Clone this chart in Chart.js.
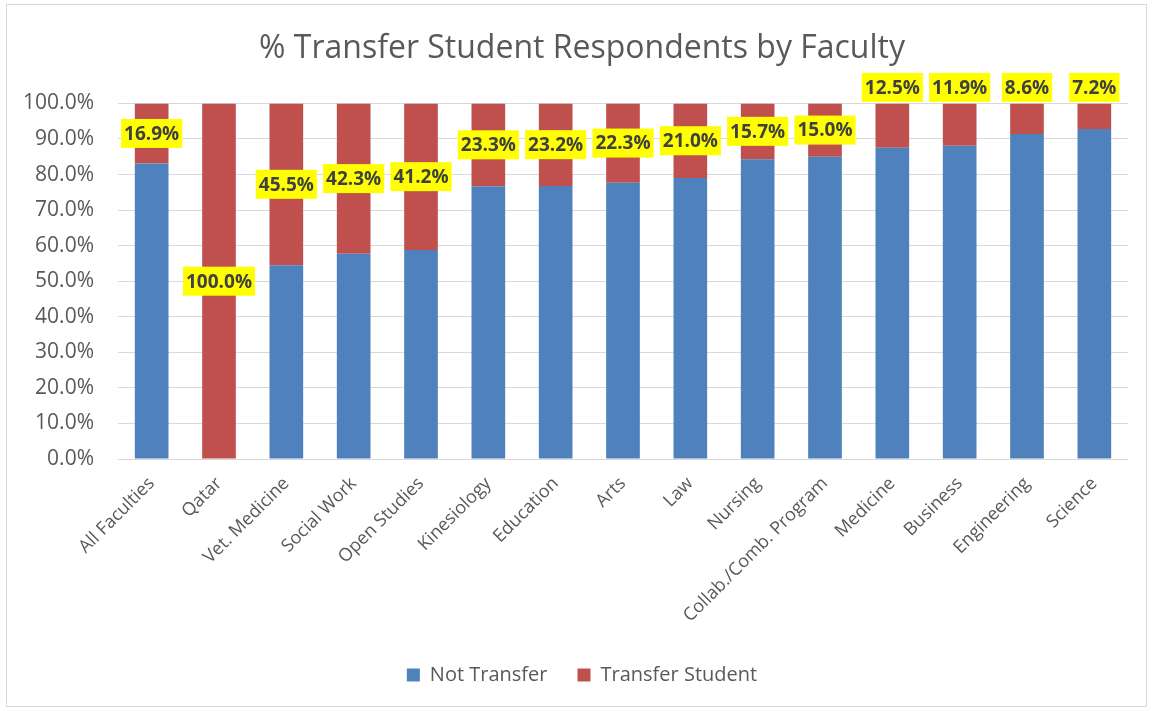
<!DOCTYPE html>
<html>
<head>
<meta charset="utf-8">
<script src="https://cdn.jsdelivr.net/npm/chart.js@4/dist/chart.umd.min.js"></script>
<style>
html,body{margin:0;padding:0;background:#fff;}
#wrap{position:relative;width:1153px;height:711px;}
canvas{display:block;}
</style>
</head>
<body>
<div id="wrap"><canvas id="c" width="1153" height="711"></canvas></div>
<script>
const categories = ["All Faculties","Qatar","Vet. Medicine","Social Work","Open Studies","Kinesiology","Education","Arts","Law","Nursing","Collab./Comb. Program","Medicine","Business","Engineering","Science"];
const notTransfer = [83.1,0,54.5,57.7,58.8,76.7,76.8,77.7,79.0,84.3,85.0,87.5,88.1,91.4,92.8];
const transferStudent = [16.9,100,45.5,42.3,41.2,23.3,23.2,22.3,21.0,15.7,15.0,12.5,11.9,8.6,7.2];
const yTicks = [0,10,20,30,40,50,60,70,80,90,100];

const FONT = "'Open Sans', 'Noto Sans', sans-serif";
const GREY = '#595959';

const borderPlugin = {
  id: 'outerBorder',
  beforeDraw(chart) {
    const ctx = chart.ctx;
    ctx.save();
    ctx.fillStyle = '#fff';
    ctx.fillRect(0,0,chart.width,chart.height);
    ctx.strokeStyle = '#D9D9D9';
    ctx.lineWidth = 1;
    ctx.strokeRect(6.5, 4.5, chart.width - 13, chart.height - 9);
    ctx.restore();
  }
};

const labelPlugin = {
  id: 'segLabels',
  afterDatasetsDraw(chart) {
    const ctx = chart.ctx;
    const meta = chart.getDatasetMeta(1);
    const ys = chart.scales.y;
    ctx.save();
    ctx.font = "bold 19px " + FONT;
    ctx.textAlign = 'center';
    ctx.textBaseline = 'middle';
    meta.data.forEach((bar, i) => {
      const v = transferStudent[i];
      const base = notTransfer[i];
      let cy;
      if (v < 14) {
        cy = ys.getPixelForValue(100) - 16;
      } else {
        cy = ys.getPixelForValue(base + v / 2);
      }
      const txt = v.toFixed(1) + '%';
      const w = ctx.measureText(txt).width + 6;
      const h = 29;
      ctx.fillStyle = '#FFFF00';
      ctx.fillRect(bar.x - w / 2, cy - h / 2, w, h);
      ctx.fillStyle = '#404040';
      ctx.fillText(txt, bar.x, cy + 1);
    });
    ctx.restore();
  }
};

new Chart(document.getElementById('c'), {
  type: 'bar',
  data: {
    labels: categories,
    datasets: [
      { label: 'Not Transfer', data: notTransfer, backgroundColor: '#4F81BD', borderWidth: 0 },
      { label: 'Transfer Student', data: transferStudent, backgroundColor: '#C0504D', borderWidth: 0 }
    ]
  },
  options: {
    responsive: false,
    animation: false,
    devicePixelRatio: 1,
    layout: { padding: { left: 11, right: 0, top: 0, bottom: 16 } },
    datasets: { bar: { categoryPercentage: 1.0, barPercentage: 0.5 } },
    plugins: {
      title: {
        display: true,
        text: '% Transfer Student Respondents by Faculty',
        color: GREY,
        font: { family: FONT, size: 32, weight: 'normal' },
        padding: { top: 30, bottom: 35 }
      },
      legend: {
        position: 'bottom',
        labels: {
          color: GREY,
          font: { family: FONT, size: 20 },
          boxWidth: 13,
          boxHeight: 13,
          padding: 30
        }
      },
      tooltip: { enabled: false }
    },
    scales: {
      x: {
        stacked: true,
        grid: { display: false, drawTicks: false },
        border: { display: false },
        ticks: {
          color: GREY,
          font: { family: FONT, size: 18 },
          maxRotation: 45,
          minRotation: 45,
          autoSkip: false,
          padding: 14
        },
        afterFit(s) { s.height = 176; }
      },
      y: {
        stacked: true,
        min: 0,
        max: 100,
        afterBuildTicks(s) { s.ticks = yTicks.map(v => ({ value: v })); },
        grid: { color: '#D9D9D9', drawTicks: false, lineWidth: 1 },
        border: { display: false },
        ticks: {
          color: GREY,
          font: { family: FONT, size: 21 },
          padding: 24,
          callback: v => v.toFixed(1) + '%'
        },
        afterFit(s) { s.width = 107; }
      },
      yRightGap: {
        type: 'linear',
        position: 'right',
        display: true,
        min: 0,
        max: 100,
        grid: { display: false, drawTicks: false },
        border: { display: false },
        ticks: { display: false },
        afterFit(s) { s.width = 25; }
      }
    }
  },
  plugins: [borderPlugin, labelPlugin]
});
</script>
</body>
</html>
